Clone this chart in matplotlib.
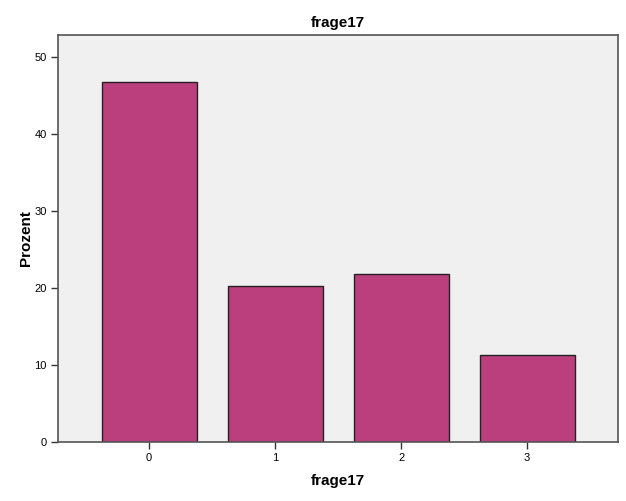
import matplotlib
matplotlib.use('Agg')
import matplotlib.pyplot as plt

# Daten
kategorien = ['0', '1', '2', '3']
prozent = [46.8, 20.2, 21.8, 11.3]

plt.rcParams['font.family'] = ['Liberation Sans', 'DejaVu Sans']

fig = plt.figure(figsize=(6.26, 5.01), dpi=100)
ax = fig.add_axes([0.0927, 0.1184, 0.8943, 0.8116])
ax.set_facecolor('#F0F0F0')

x = range(len(kategorien))
ax.bar(x, prozent, width=0.754, color='#BB3F7D', edgecolor='#222222', linewidth=1.0)

ax.set_xlim(-0.722, 3.72)
ax.set_ylim(0, 52.9)
ax.set_xticks(list(x))
ax.set_xticklabels(kategorien)
ax.set_yticks([0, 10, 20, 30, 40, 50])

for s in ax.spines.values():
    s.set_color('#555555')
    s.set_linewidth(1.2)

ax.tick_params(axis='both', labelsize=8, length=5, width=1, color='#333333', pad=3)

ax.set_title('frage17', fontsize=11, fontweight='bold', pad=6)
ax.set_xlabel('frage17', fontsize=11, fontweight='bold', labelpad=8)
ax.set_ylabel('Prozent', fontsize=11, fontweight='bold', labelpad=1)

fig.savefig('out.png', dpi=100)
